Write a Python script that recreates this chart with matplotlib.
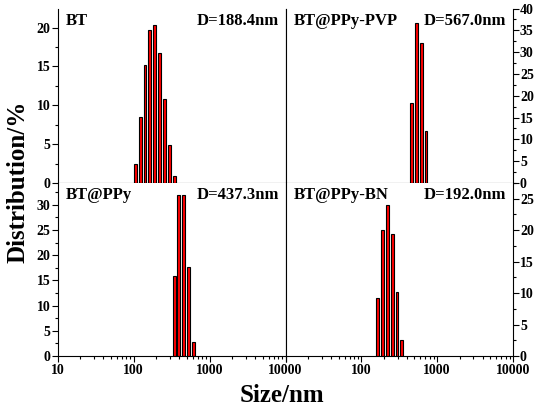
import matplotlib
matplotlib.use("Agg")
import matplotlib.pyplot as plt
import numpy as np
from matplotlib.ticker import MultipleLocator, LogLocator, NullFormatter, FixedLocator, FixedFormatter

plt.rcParams['font.family'] = ['Liberation Serif', 'DejaVu Serif']
plt.rcParams['font.weight'] = 'bold'

# Data (size in nm, distribution in %)
bt_size = [105.7, 122.4, 141.8, 164.2, 190.1, 220.2, 255.0, 295.3, 342.0]
bt_val = [2.5, 8.5, 15.2, 19.7, 20.3, 16.7, 10.8, 4.9, 0.9]

pvp_size = [458.7, 531.2, 615.1, 712.4]
pvp_val = [18.3, 36.7, 32.1, 12.0]

ppy_size = [342.0, 396.1, 458.7, 531.2, 615.1]
ppy_val = [15.9, 31.9, 32.0, 17.7, 2.7]

bn_size = [164.2, 190.1, 220.2, 255.0, 295.3, 342.0]
bn_val = [9.2, 20.0, 24.0, 19.4, 10.2, 2.5]

names = ["BT", "BT@PPy-PVP", "BT@PPy", "BT@PPy-BN"]
diam = ["D=188.4nm", "D=567.0nm", "D=437.3nm", "D=192.0nm"]
ymax = [22.45, 40, 34.3, 27.5]
ymajor = [5, 5, 5, 5]
xtick_vals = [10, 100, 1000, 10000]
xtick_labels = ["10", "100", "1000", "10000"]

sizes = [bt_size, pvp_size, ppy_size, bn_size]
vals = [bt_val, pvp_val, ppy_val, bn_val]

fig = plt.figure(figsize=(5.36, 4.12), dpi=100)
W, H = 536, 412
xl, xm, xr = 57.5, 285.5, 513
yt, ym, yb = 8.5, 183, 356
rects = [
    (xl, yt, xm, ym), (xm, yt, xr, ym),
    (xl, ym, xm, yb), (xm, ym, xr, yb),
]

wdec = 0.038
for i, (x0, y0, x1, y1) in enumerate(rects):
    ax = fig.add_axes([x0 / W, 1 - y1 / H, (x1 - x0) / W, (y1 - y0) / H])
    s = np.array(sizes[i])
    lefts = s * 10 ** (-wdec / 2)
    widths = s * (10 ** (wdec / 2) - 10 ** (-wdec / 2))
    ax.bar(lefts, vals[i], width=widths, align='edge', color='#ff0000',
           edgecolor='black', linewidth=0.8)
    ax.set_xscale('log')
    ax.set_xlim(10, 10000)
    ax.set_ylim(0, ymax[i])
    ax.spines['top'].set_visible(False)
    for sp in ax.spines.values():
        sp.set_linewidth(0.8)
    ax.yaxis.set_major_locator(MultipleLocator(ymajor[i]))
    ax.yaxis.set_minor_locator(MultipleLocator(ymajor[i] / 2))
    right = (i % 2 == 1)
    if right:
        ax.yaxis.tick_right()
        ax.yaxis.set_label_position('right')
    ax.tick_params(axis='y', which='major', direction='out', length=4, width=0.8,
                   labelsize=10, pad=1)
    ax.tick_params(axis='y', which='minor', direction='out', length=2, width=0.8)
    if i < 2:
        ax.tick_params(axis='x', which='both', bottom=False, labelbottom=False)
    else:
        ax.xaxis.set_major_locator(FixedLocator(xtick_vals))
        labs = list(xtick_labels)
        if right:
            labs[0] = ""
        ax.xaxis.set_major_formatter(FixedFormatter(labs))
        ax.xaxis.set_minor_locator(LogLocator(base=10, subs=np.arange(2, 10)))
        ax.xaxis.set_minor_formatter(NullFormatter())
        ax.tick_params(axis='x', which='major', direction='out', length=4, width=0.8,
                       labelsize=10, pad=2)
        ax.tick_params(axis='x', which='minor', direction='out', length=2, width=0.8)
    for lab in ax.get_xticklabels() + ax.get_yticklabels():
        lab.set_fontweight('bold')
    ax.text(0.035, 0.93, names[i], transform=ax.transAxes, fontsize=12,
            fontweight='bold', ha='left', va='center')
    ax.text(0.97, 0.93, diam[i], transform=ax.transAxes, fontsize=12,
            fontweight='bold', ha='right', va='center')

fig.text(18 / W, 1 - 182 / H, "Distribution/%", rotation=90, fontsize=18,
         fontweight='bold', ha='center', va='center')
fig.text(282 / W, 1 - 395 / H, "Size/nm", fontsize=18, fontweight='bold',
         ha='center', va='center')

fig.savefig("out.png", dpi=100)
